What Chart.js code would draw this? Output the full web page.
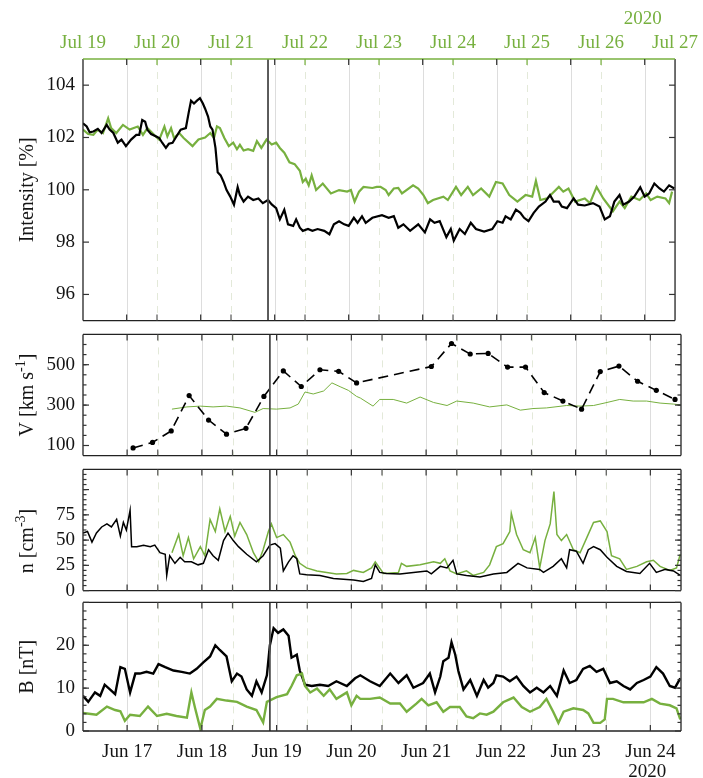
<!DOCTYPE html>
<html>
<head>
<meta charset="utf-8">
<script src="https://cdn.jsdelivr.net/npm/chart.js@4.4.0/dist/chart.umd.min.js"></script>
<style>
  body { margin: 0; background: #fff; }
  #wrap { position: relative; width: 703px; height: 778px; }
  .box { position: absolute; left: 0; width: 703px; }
</style>
</head>
<body>
<div id="wrap">
  <div class="box" style="top:0;height:340px"><canvas id="c1"></canvas></div>
  <div class="box" style="top:315px;height:160px"><canvas id="c2"></canvas></div>
  <div class="box" style="top:450px;height:160px"><canvas id="c3"></canvas></div>
  <div class="box" style="top:583px;height:195px"><canvas id="c4"></canvas></div>
</div>
<script>
// x axis: days of June 2020 (bottom) and of July 2020 (top, green)
const xMin = 16.41, xMax = 24.41;
const julMin = 19, julMax = 27;
const junDays   = [17, 18, 19, 20, 21, 22, 23, 24];
const junLabels = ['Jun 17', 'Jun 18', 'Jun 19', 'Jun 20', 'Jun 21', 'Jun 22', 'Jun 23', 'Jun 24'];
const julDays   = [19, 20, 21, 22, 23, 24, 25, 26, 27];
const julLabels = ['Jul 19', 'Jul 20', 'Jul 21', 'Jul 22', 'Jul 23', 'Jul 24', 'Jul 25', 'Jul 26', 'Jul 27'];
const eventDay = 18.91;

// Intensity [%]
const intBlackT = [16.41,16.46,16.50,16.55,16.61,16.66,16.73,16.77,16.82,16.88,16.93,16.99,17.06,17.13,17.17,17.21,17.25,17.28,17.33,17.40,
  17.44,17.48,17.53,17.57,17.62,17.66,17.73,17.80,17.84,17.87,17.91,17.95,17.99,18.03,18.06,18.10,18.13,18.16,18.20,18.23,
  18.27,18.31,18.35,18.40,18.45,18.50,18.53,18.58,18.64,18.71,18.78,18.84,18.91,18.96,19.02,19.07,19.13,19.18,19.25,19.29,
  19.34,19.38,19.45,19.51,19.58,19.67,19.74,19.80,19.87,19.94,20.00,20.07,
  20.12,20.18,20.23,20.32,20.45,20.54,20.61,20.67,20.74,20.83,20.94,21.03,21.10,21.16,21.23,21.32,21.38,21.42,21.50,21.57,
  21.65,21.72,21.83,21.94,22.01,22.08,22.12,22.19,22.26,22.32,22.37,22.43,22.50,22.57,22.66,22.72,22.77,22.84,22.88,22.95,
  23.04,23.10,23.19,23.30,23.39,23.46,23.53,23.59,23.66,23.71,23.79,23.86,23.94,24.00,24.06,24.13,24.20,24.26,24.33,24.40];
const intBlack = [102.54,102.42,102.2,102.23,102.33,102.17,102.48,102.3,102.17,101.8,101.92,101.67,101.92,102.1,102.1,102.67,102.6,102.3,102.13,102.04,
  101.98,101.8,101.6,101.76,101.8,101.98,102.3,102.36,102.98,103.41,103.3,103.41,103.5,103.3,103.1,102.8,102.42,102.3,101.6,100.67,
  100.55,100.3,99.99,99.74,99.43,100.1,99.8,99.55,99.74,99.61,99.67,99.49,99.61,99.44,99.3,98.87,99.24,98.68,98.62,98.87,
  98.55,98.43,98.5,98.43,98.5,98.43,98.3,98.68,98.8,98.68,98.62,98.93,
  98.74,98.99,98.74,98.93,99.03,98.93,98.99,98.55,98.68,98.43,98.68,98.37,98.87,98.74,98.8,98.19,98.5,98.06,98.5,98.31,
  98.74,98.5,98.4,98.5,98.8,98.74,98.99,98.87,99.24,99.12,98.93,98.8,99.12,99.36,99.55,99.8,99.55,99.55,99.36,99.3,
  99.67,99.43,99.4,99.49,99.36,98.87,98.99,99.55,99.8,99.43,99.55,99.74,100.1,99.74,99.86,100.24,100.05,99.93,100.17,100.05];
const intGreenT = [16.41,16.48,16.55,16.61,16.68,16.75,16.79,16.86,16.95,17.04,17.15,17.22,17.28,17.37,17.44,17.51,17.55,17.60,17.64,17.71,
  17.77,17.89,17.97,18.06,18.13,18.18,18.22,18.26,18.32,18.38,18.44,18.49,18.53,18.58,18.64,18.71,18.76,18.82,18.89,18.96,
  19.02,19.07,19.13,19.20,19.27,19.34,19.38,19.42,19.46,19.50,19.56,19.65,19.76,19.87,19.98,20.03,20.08,20.14,20.20,20.32,20.38,
  20.43,20.50,20.54,20.61,20.67,20.72,20.87,20.94,21.01,21.07,21.14,21.28,21.34,21.45,21.52,21.61,21.68,21.79,21.90,21.99,
  22.08,22.17,22.28,22.39,22.48,22.53,22.59,22.68,22.75,22.84,22.90,22.97,23.06,23.19,23.26,23.35,23.44,23.57,23.66,23.73,
  23.82,23.93,24.02,24.08,24.17,24.28,24.33,24.37];
const intGreen = [102.3,102.13,102.1,102.3,102.17,102.73,102.36,102.17,102.48,102.3,102.42,102.1,102.36,102.1,101.92,102.42,102.04,102.36,101.98,102.17,
  101.98,101.67,101.92,102.0,102.17,101.98,102.42,102.36,101.98,101.67,101.8,101.55,101.72,101.5,101.55,101.49,101.86,101.6,101.92,101.73,
  101.8,101.6,101.42,101.05,100.98,100.73,100.3,100.42,100.17,100.55,99.99,100.24,99.86,99.99,99.93,99.99,99.55,99.93,100.11,100.07,100.11,
  100.11,99.99,99.8,100.05,100.07,99.86,100.17,100.05,99.8,99.49,99.61,99.74,99.61,100.11,99.8,100.11,99.8,100.05,99.74,100.3,
  100.24,99.8,99.55,99.8,99.74,100.34,99.61,99.67,99.86,100.11,99.93,100.05,99.55,99.67,99.49,100.11,99.67,99.18,99.55,99.3,
  99.74,99.61,99.86,99.61,99.74,99.67,99.49,99.93];

// V [km s-1]
const vBlackT = [17.08,17.34,17.59,17.83,18.09,18.33,18.59,18.83,19.09,19.33,19.58,19.83,20.07,21.07,21.34,21.59,21.83,22.09,22.33,22.58,22.83,23.08,23.33,23.58,23.83,24.08,24.33];
const vBlack  = [88,115,172,347,226,156,185,343,469,392,475,467,410,491,605,553,556,488,488,362,320,280,466,493,418,373,328];
const vGreenT = [17.60,17.80,17.98,18.15,18.33,18.51,18.71,18.82,19.00,19.18,19.29,19.38,19.49,19.63,19.74,19.85,19.96,20.07,20.12,20.29,
  20.38,20.56,20.74,20.92,21.10,21.28,21.41,21.63,21.85,22.08,22.26,22.43,22.61,22.88,23.06,23.24,23.42,23.59,23.77,23.95,24.13,24.31,24.40];
const vGreen  = [280,291,295,291,295,286,264,283,280,286,305,365,355,370,410,391,373,343,335,295,
  328,328,310,340,313,298,320,310,291,301,275,283,286,298,295,298,313,328,320,320,310,305,301];

// n [cm-3]
const nBlackT = [16.41,16.47,16.53,16.59,16.66,16.73,16.79,16.86,16.91,16.95,16.99,17.04,17.06,17.13,17.22,17.31,17.37,17.44,17.51,17.53,
  17.57,17.64,17.71,17.77,17.86,17.95,18.02,18.09,18.15,18.22,18.29,18.35,18.42,18.49,18.60,18.73,18.82,18.91,18.98,19.05,
  19.09,19.16,19.22,19.27,19.31,19.40,19.58,19.76,19.94,20.03,20.16,20.27,20.32,20.38,20.47,20.65,20.83,21.01,21.07,21.19,
  21.28,21.36,21.41,21.54,21.72,21.90,22.08,22.23,22.35,22.52,22.57,22.70,22.81,22.88,22.92,23.01,23.10,23.17,23.24,23.33,
  23.42,23.55,23.68,23.86,23.99,24.08,24.20,24.31,24.40];
const nBlack = [57,58.5,48,57,63,66,63,70.5,54,67.5,60,79.5,43.5,43.5,45,43.5,45,37.5,36,15,
  34.5,27,33,28.5,28.5,25.5,27,40.5,34.5,30,49.5,57,49.5,43.5,36,28.5,34.5,45,46.5,42,
  19.5,28.5,34.5,31.5,16.5,15.6,15,12,11,10.5,9,12,25.5,18,17,16.5,18,19.5,16.5,24,
  22.5,30,16.5,15,13.5,16.5,18,27,22.5,21,18,24,31.5,22.5,40.5,39,27,40.5,43.5,40.5,
  33,24,19,17,27,18,21,19.5,15];
const nGreenT = [17.60,17.69,17.75,17.82,17.89,17.98,18.04,18.11,18.18,18.24,18.31,18.38,18.44,18.51,18.60,18.69,18.76,18.82,18.89,18.93,
  19.00,19.09,19.18,19.25,19.31,19.40,19.54,19.67,19.80,19.94,20.03,20.16,20.27,20.32,20.43,20.63,20.67,20.74,20.92,21.10,
  21.19,21.25,21.32,21.41,21.54,21.63,21.77,21.85,21.94,22.03,22.12,22.14,22.21,22.30,22.39,22.46,22.52,22.59,22.66,22.71,
  22.75,22.81,22.88,22.97,23.06,23.15,23.24,23.33,23.42,23.48,23.59,23.68,23.82,23.95,24.04,24.13,24.26,24.35,24.40];
const nGreen = [37.5,55.5,34.5,52.5,31.5,43.5,34.5,70.5,58.5,81,58.5,73.5,54,67.5,55.5,37.5,28.5,40.5,58.5,66,
  52.5,55.5,48,34.5,27,22.5,19.5,18,16.5,17,20,18,22.5,28.5,17,18,27,24,25.5,28.5,
  27,31.5,19.5,16.5,19.5,15,18,25.5,43.5,46.5,58.5,76.5,55.5,40.5,37.5,52.5,22.5,49.5,66,98,
  55.5,49.5,55.5,40.5,37.5,52.5,67.5,69,58.5,34.5,31.5,21,24,28.5,30,24,20,22.5,36];

// B [nT]
const bBlackT = [16.41,16.48,16.57,16.64,16.70,16.77,16.84,16.91,16.97,17.04,17.11,17.17,17.26,17.35,17.42,17.51,17.62,17.73,17.84,17.93,
  18.02,18.11,18.18,18.24,18.33,18.40,18.47,18.53,18.60,18.67,18.73,18.80,18.87,18.91,18.96,19.02,19.09,19.16,19.20,19.27,
  19.31,19.38,19.47,19.58,19.69,19.80,19.94,20.05,20.12,20.25,20.38,20.52,20.63,20.74,20.83,20.96,21.05,21.12,21.19,21.23,
  21.30,21.34,21.39,21.43,21.50,21.59,21.68,21.77,21.83,21.90,21.94,22.03,22.12,22.21,22.30,22.39,22.48,22.57,22.66,22.75,
  22.84,22.92,23.01,23.10,23.19,23.28,23.37,23.46,23.55,23.64,23.73,23.82,23.91,24.00,24.08,24.17,24.26,24.33,24.40];
const bBlack = [8.2,6.8,9.0,8.2,10.8,9.7,8.6,14.9,14.5,9.0,13.4,13.4,13.8,13.4,15.6,14.9,14.1,13.8,13.4,14.5,
  16.0,17.4,20.0,18.9,17.4,11.6,13.4,12.7,9.7,8.2,11.6,9.0,13.0,20.0,24.0,22.9,23.7,22.2,17.1,17.8,
  14.1,10.8,10.5,10.8,10.5,11.6,10.5,12.3,13.0,11.6,10.5,13.4,11.2,13.0,10.1,11.2,13.4,9.0,12.7,16.3,
  17.1,20.7,17.8,14.1,9.7,11.9,8.2,11.9,10.1,11.2,13.0,12.7,11.6,12.7,10.5,9.0,10.1,9.0,10.5,8.2,
  14.1,11.2,11.9,14.5,15.2,13.8,14.5,11.2,11.6,10.5,9.7,11.2,11.9,12.7,14.9,13.4,10.5,10.1,12.3];
const bGreenT = [16.41,16.59,16.73,16.84,16.91,16.97,17.04,17.17,17.28,17.40,17.53,17.66,17.80,17.86,17.91,17.98,18.04,18.11,18.20,18.33,
  18.47,18.60,18.73,18.82,18.87,19.00,19.14,19.20,19.27,19.34,19.38,19.45,19.54,19.63,19.71,19.80,19.94,20.00,20.07,20.12,
  20.25,20.38,20.52,20.65,20.74,20.87,20.94,21.03,21.14,21.23,21.32,21.45,21.54,21.63,21.72,21.81,21.90,22.03,22.17,22.28,
  22.39,22.52,22.61,22.70,22.77,22.84,22.97,23.10,23.17,23.24,23.33,23.39,23.42,23.50,23.64,23.77,23.91,24.02,24.13,24.26,
  24.35,24.40];
const bGreen = [4.2,3.8,5.7,4.9,4.6,2.4,3.8,3.5,5.7,3.5,4.0,3.5,3.1,9.0,5.3,0.5,4.9,5.7,7.5,7.1,
  6.8,5.7,4.9,2.0,6.8,7.9,8.6,10.5,13.0,13.4,10.5,9.0,9.9,8.2,9.7,7.5,9.0,6.0,8.2,7.5,
  7.5,7.8,6.4,6.4,4.5,6.4,7.5,6.0,6.7,4.5,5.6,5.6,3.4,3.0,4.1,3.8,4.5,6.7,7.8,5.6,
  4.5,5.6,7.5,4.5,1.9,4.5,5.3,4.9,4.1,1.9,1.9,2.7,7.5,7.5,6.7,6.7,6.7,7.5,6.4,6.0,
  5.3,2.7];

// y ticks
const intTicks = [96, 98, 100, 102, 104];
const vTicks = [100, 300, 500];
const nTicks = [0, 25, 50, 75];
const bTicks = [0, 10, 20];

const GREEN = '#77b03f';
const INK = '#141414';
const FONT = "'Liberation Serif', 'Times New Roman', serif";

Chart.defaults.font.family = FONT;
Chart.defaults.font.size = 19;
Chart.defaults.color = INK;
Chart.defaults.animation = false;

const pts = (t, v) => t.map((x, i) => ({ x, y: v[i] }));
const range = (a, b, s) => { const r = []; for (let v = a; v <= b + 1e-9; v += s) r.push(v); return r; };

function seg(ctx, x0, y0, x1, y1) {
  ctx.beginPath(); ctx.moveTo(x0, y0); ctx.lineTo(x1, y1); ctx.stroke();
}

function drawTitle(ctx, parts, cx, cy) {
  ctx.save();
  ctx.translate(cx, cy);
  ctx.rotate(-Math.PI / 2);
  const big = '20px ' + FONT, small = '14px ' + FONT;
  let w = 0;
  parts.forEach(p => { ctx.font = p[1] ? small : big; w += ctx.measureText(p[0]).width; });
  let px = -w / 2;
  ctx.fillStyle = INK;
  ctx.textBaseline = 'alphabetic';
  parts.forEach(p => {
    ctx.font = p[1] ? small : big;
    ctx.fillText(p[0], px, p[1] ? -1 : 7);
    px += ctx.measureText(p[0]).width;
  });
  ctx.restore();
}

const deco = {
  id: 'deco',
  beforeDatasetsDraw(chart, args, o) {
    const { ctx, chartArea: a, scales: { x, x2 } } = chart;
    ctx.save();
    ctx.lineWidth = 1;
    ctx.setLineDash([7, 6]);
    ctx.strokeStyle = '#e3e9d9';
    julDays.slice(1, -1).forEach(d => {
      const p = Math.round(x2.getPixelForValue(d)) + 0.5;
      seg(ctx, p, a.top, p, a.bottom);
    });
    ctx.setLineDash([]);
    ctx.strokeStyle = '#dddddd';
    junDays.forEach(d => {
      const p = Math.round(x.getPixelForValue(d)) + 0.5;
      seg(ctx, p, a.top, p, a.bottom);
    });
    ctx.restore();
  },
  afterDatasetsDraw(chart, args, o) {
    const { ctx, chartArea: a, scales: { x, x2, y } } = chart;
    ctx.save();
    // event line
    ctx.strokeStyle = '#4a4a4a';
    ctx.lineWidth = 1.8;
    const ev = x.getPixelForValue(eventDay);
    seg(ctx, ev, a.top, ev, a.bottom);

    // frame
    ctx.lineWidth = 1.3;
    ctx.strokeStyle = '#222';
    seg(ctx, a.left, a.top, a.left, a.bottom);
    seg(ctx, a.right, a.top, a.right, a.bottom);
    seg(ctx, a.left, a.bottom, a.right, a.bottom);
    ctx.strokeStyle = o.greenTop ? GREEN : '#222';
    seg(ctx, a.left, a.top, a.right, a.top);

    // x ticks, inward
    ctx.lineWidth = 1.2;
    junDays.forEach(d => {
      const p = x.getPixelForValue(d);
      ctx.strokeStyle = '#333';
      seg(ctx, p, a.top, p, a.top + 6);
      seg(ctx, p, a.bottom, p, a.bottom - 6);
    });
    julDays.slice(1, -1).forEach(d => {
      const p = x2.getPixelForValue(d);
      ctx.strokeStyle = o.greenTop ? GREEN : '#555';
      seg(ctx, p, a.top, p, a.top + 6);
      ctx.strokeStyle = '#555';
      seg(ctx, p, a.bottom, p, a.bottom - 6);
    });

    // y ticks, both sides, inward
    ctx.strokeStyle = '#333';
    (o.minor || []).forEach(v => {
      const p = y.getPixelForValue(v);
      seg(ctx, a.left, p, a.left + 3.5, p);
      seg(ctx, a.right, p, a.right - 3.5, p);
    });
    (o.major || []).forEach(v => {
      const p = y.getPixelForValue(v);
      seg(ctx, a.left, p, a.left + 6, p);
      seg(ctx, a.right, p, a.right - 6, p);
    });
    ctx.restore();

    drawTitle(ctx, o.title, 26, o.titleY != null ? o.titleY : (a.top + a.bottom) / 2);

    if (o.yearTop || o.yearBottom) {
      ctx.save();
      ctx.font = '19px ' + FONT;
      ctx.textAlign = 'center';
      ctx.textBaseline = 'middle';
      const cx = x.getPixelForValue(24);
      if (o.yearTop) { ctx.fillStyle = GREEN; ctx.fillText('2020', cx - 2, 19); }
      if (o.yearBottom) { ctx.fillStyle = INK; ctx.fillText('2020', cx - 3, a.bottom + 41); }
      ctx.restore();
    }
  }
};

function xScales(showTop, showBottom) {
  return {
    x: {
      type: 'linear', min: xMin, max: xMax, display: showBottom, position: 'bottom',
      afterBuildTicks: s => { s.ticks = junDays.map(v => ({ value: v })); },
      afterFit: s => { if (showBottom) s.height = 47; },
      ticks: { callback: (v, i) => junLabels[i], padding: 10, autoSkip: false, maxRotation: 0, color: INK },
      grid: { display: false, drawTicks: false },
      border: { display: false }
    },
    x2: {
      type: 'linear', min: julMin, max: julMax, display: showTop, position: 'top',
      afterBuildTicks: s => { s.ticks = julDays.map(v => ({ value: v })); },
      afterFit: s => { if (showTop) s.height = 59; },
      ticks: { callback: (v, i) => julLabels[i], padding: 5, autoSkip: false, maxRotation: 0, color: GREEN },
      grid: { display: false, drawTicks: false },
      border: { display: false }
    }
  };
}

function yScale(min, max, ticks) {
  return {
    min, max,
    afterBuildTicks: s => { s.ticks = ticks.map(v => ({ value: v })); },
    afterFit: s => { s.width = 83; },
    ticks: { padding: 8, color: INK },
    grid: { display: false, drawTicks: false },
    border: { display: false }
  };
}

function panel(id, datasets, y, padding, decoOpts, showTop, showBottom) {
  return new Chart(document.getElementById(id), {
    type: 'line',
    data: { datasets },
    options: {
      responsive: true,
      maintainAspectRatio: false,
      events: [],
      layout: { padding: { left: 0, right: 22, top: padding[0], bottom: padding[1] } },
      elements: { point: { radius: 0 }, line: { tension: 0 } },
      plugins: { legend: { display: false }, tooltip: { enabled: false }, deco: decoOpts },
      scales: Object.assign(xScales(showTop, showBottom), { y })
    },
    plugins: [deco]
  });
}

// Intensity
panel('c1', [
  { data: pts(intBlackT, intBlack), borderColor: '#000', borderWidth: 2.2, order: 1 },
  { data: pts(intGreenT, intGreen), borderColor: GREEN, borderWidth: 2.2, order: 2 }
], yScale(95, 105, intTicks), [0, 13],
  { title: [['Intensity [%]', 0]], major: intTicks, greenTop: true, yearTop: true }, true, false);

// Solar wind speed
panel('c2', [
  { data: pts(vBlackT, vBlack), borderColor: '#000', borderWidth: 1.6, borderDash: [10, 6],
    pointRadius: 2.6, pointBackgroundColor: '#000', pointBorderWidth: 0, order: 1 },
  { data: pts(vGreenT, vGreen), borderColor: GREEN, borderWidth: 1, order: 2 }
], yScale(50, 650, vTicks), [12, 13],
  { title: [['V [km s', 0], ['-1', 1], [']', 0]], major: vTicks, minor: range(150, 600, 50) }, false, false);

// Density
panel('c3', [
  { data: pts(nBlackT, nBlack), borderColor: '#000', borderWidth: 1.5, order: 1 },
  { data: pts(nGreenT, nGreen), borderColor: GREEN, borderWidth: 1.5, order: 2 }
], yScale(0, 120, nTicks), [12, 15],
  { title: [['n [cm', 0], ['-3', 1], [']', 0]], major: [0, 25, 50, 75, 100], minor: range(5, 115, 5), titleY: 91 }, false, false);

// Magnetic field
panel('c4', [
  { data: pts(bBlackT, bBlack), borderColor: '#000', borderWidth: 2.4, order: 2 },
  { data: pts(bGreenT, bGreen), borderColor: GREEN, borderWidth: 2.4, order: 1 }
], yScale(0, 30, bTicks), [12, 0],
  { title: [['B [nT]', 0]], major: [0, 10, 20, 30], minor: range(2, 28, 2), yearBottom: true }, false, true);
</script>
</body>
</html>
